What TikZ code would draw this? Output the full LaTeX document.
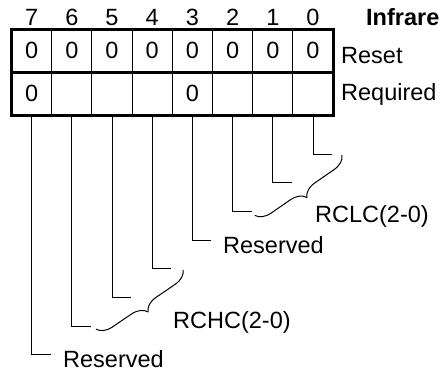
\documentclass[tikz,border=0pt]{standalone}
\usepackage{fontspec}
\setmainfont{Liberation Sans}
\usetikzlibrary{calc, decorations.pathreplacing}

\begin{document}
\begin{tikzpicture}[x=1pt, y=-1pt,
  every node/.style={font=\fontsize{23.5}{28}\selectfont, inner sep=0pt},
  bitcell/.style={draw, line width=1pt, minimum width=40.2pt, minimum height=42.5pt},
  lead/.style={line width=1pt},
  fieldbrace/.style={line width=1pt, decorate, decoration={brace, amplitude=15pt}}]
  \useasboundingbox (0,0) rectangle (440,375);
  % register cells, bit 7 on the left
  \foreach \b/\v [evaluate=\b as \x using 31.6+(7-\b)*40.2] in
      {7/0,6/{},5/{},4/{},3/0,2/{},1/{},0/{}} {
    \node[bitcell] (r1b\b) at (\x,50.75) {0};
    \node[bitcell] (r2b\b) at (\x,93.25) {\v};
    \node[anchor=base] (n\b) at (\x,25) {\b};
  }
  \draw[line width=3pt] (r1b7.north west) rectangle (r2b0.south east);
  \draw[line width=3pt] (r1b7.south west) -- (r1b0.south east);
  \node[anchor=base west, font=\fontsize{23.5}{28}\selectfont\bfseries] (title) at (366,25) {Infrare};
  \node[anchor=base west] (reset) at (341,63) {Reset};
  \node[anchor=base west] (req) at (341,100) {Required};
  % leads from the bits
  \foreach \b [evaluate=\b as \y using 154+\b*28.7] in {0,...,7} {
    \coordinate (t\b) at ($(r2b\b.south |- 0,\y)+(19,0)$);
    \draw[lead] (r2b\b.south) |- (t\b);
  }
  \draw[fieldbrace] ($(t0)+(10,1)$) -- ($(t2)+(3,4)$);
  \draw[fieldbrace] ($(t4)+(12,1)$) -- ($(t6)+(5,3)$);
  \node[anchor=base west] (rclc) at (315,222) {RCLC(2-0)};
  \node[anchor=base west] (res3) at (223,253) {Reserved};
  \node[anchor=base west] (rchc) at (173,328) {RCHC(2-0)};
  \node[anchor=base west] (res7) at (63,367) {Reserved};
\end{tikzpicture}
\end{document}
